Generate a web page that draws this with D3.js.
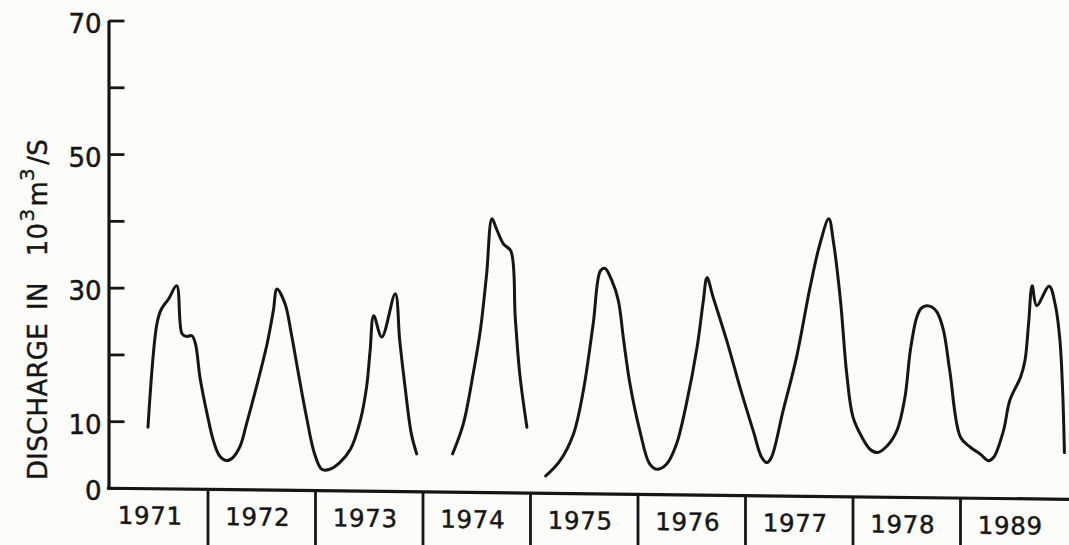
<!DOCTYPE html>
<html>
<head>
<meta charset="utf-8">
<script src="https://cdn.jsdelivr.net/npm/d3@7"></script>
<style>
  html, body { margin: 0; padding: 0; background: #fcfcf8; }
  svg { display: block; }
  text { font-family: "DejaVu Sans", sans-serif; fill: #161616; }
</style>
</head>
<body>
<svg id="chart" width="1069" height="545"></svg>
<script>
// ---- data (months counted from the start of 1971; null = gap in the record) ----
const yearLabels = ["1971", "1972", "1973", "1974", "1975", "1976", "1977", "1978", "1989"];
const yTickValues = [0, 10, 20, 30, 40, 50, 60, 70];
const yTickLabels = ["0", "10", "", "30", "", "50", "", "70"];

const months = [
  5.3, 6.3, 6.8, 7.6, 8.5, 9.1, 9.6, 10.2, 10.6, 11.1, 11.9, 12.6, 13.3, 14.1, 14.8, 15.6, 16.3, 17.4, 18.6, 19.3,
  19.7, 20.6, 21.3, 22.1, 23.0, 23.9, 24.7, 25.6, 26.7, 27.9, 29.0, 29.7, 30.1, 30.5, 31.4, 32.9, 33.4, 34.0, 34.7, 35.3,
  36.5,
  39.3, 40.5, 41.6, 42.4, 43.1, 43.7, 44.2, 45.0, 45.8, 46.3, 46.8, 47.6,
  48.5,
  49.7, 51.3, 52.8, 53.9, 55.0, 55.8, 56.3, 57.1, 57.8, 58.4, 59.1, 60.2, 61.3, 62.1, 63.2, 64.3, 65.4, 66.6, 67.3, 67.7,
  68.4, 69.9, 71.4, 72.9, 73.8, 74.4, 74.9, 76.2, 77.7, 79.2, 80.3, 81.3, 81.8, 82.6, 83.3, 84.0, 85.0, 85.9, 86.7, 87.8,
  88.9, 89.8, 90.4, 91.1, 91.6, 92.2, 92.8, 93.4, 94.1, 94.8, 96.0, 97.1, 98.2, 99.1, 99.7, 100.8, 101.5, 102.7, 103.2, 103.6,
  104.0, 104.5, 105.9, 106.6, 107.1, 107.4, 107.6
];
const discharge = [
  9.1, 24.6, 26.8, 28.3, 30.3, 23.1, 22.7, 22.8, 21.6, 16.6, 11.1, 7.1, 4.8, 4.1, 4.6, 6.3, 9.6, 15.1, 21.6, 26.6,
  29.8, 27.6, 23.1, 17.1, 10.6, 5.1, 2.8, 2.8, 3.8, 5.8, 10.1, 15.1, 20.6, 25.8, 22.6, 29.1, 22.1, 15.1, 8.1, 5.1,
  null,
  5.1, 9.6, 17.1, 23.6, 32.0, 40.3, 38.8, 36.5, 35.5, 25.5, 17.1, 9.1,
  null,
  1.8, 4.1, 8.1, 14.6, 24.6, 32.5, 32.9, 31.0, 28.1, 22.1, 15.6, 8.6, 3.6, 2.8, 3.6, 6.6, 12.6, 21.1, 28.1, 31.5,
  28.5, 22.1, 15.0, 8.4, 4.6, 3.8, 4.6, 11.6, 19.6, 30.0, 36.5, 40.3, 37.0, 28.1, 17.1, 10.6, 7.6, 5.8, 5.3, 6.3,
  8.6, 13.6, 20.6, 25.5, 26.9, 27.3, 27.1, 26.3, 23.6, 17.6, 7.6, 6.1, 5.1, 4.1, 4.6, 8.6, 13.1, 16.6, 19.1, 24.6,
  30.3, 27.3, 30.2, 27.3, 22.1, 14.6, 5.3
];

// ---- layout ----
const W = 1069, H = 545;
const axisX = 108.5;
const x = d3.scaleLinear().domain([0, 108]).range([100.5, 1068]);
const y = d3.scaleLinear().domain([0, 70]).range([488, 20.5]);
const ink = "#161616";

const svg = d3.select("#chart");

// y axis (ticks pointing inward, labels on the left)
const yAxis = d3.axisLeft(y)
  .tickValues(yTickValues)
  .tickFormat((d, i) => yTickLabels[i])
  .tickSize(-16)
  .tickSizeOuter(0)
  .tickPadding(7);

const gy = svg.append("g").attr("transform", `translate(${axisX},0)`).call(yAxis);
gy.select(".domain").attr("stroke", ink).attr("stroke-width", 3.2);
gy.selectAll(".tick line").attr("stroke", ink).attr("stroke-width", 2.8);
gy.selectAll(".tick text")
  .attr("font-size", 26)
  .attr("font-family", "DejaVu Sans, sans-serif")
  .attr("fill", ink)
  .attr("stroke", ink)
  .attr("stroke-width", 0.5)
  .attr("dy", "0.46em");

// y axis title
const title = svg.append("text")
  .attr("transform", "translate(47,480) rotate(-90)")
  .attr("font-size", 26)
  .attr("letter-spacing", 0.3)
  .attr("stroke", ink)
  .attr("stroke-width", 0.4);
title.append("tspan").text("DISCHARGE");
title.append("tspan").attr("dx", 13).text("IN");
title.append("tspan").attr("dx", 26).text("10");
title.append("tspan").attr("font-size", 20).attr("dy", -13).attr("dx", 1).text("3");
title.append("tspan").attr("dy", 13).attr("dx", 2).text("m");
title.append("tspan").attr("font-size", 20).attr("dy", -13).text("3");
title.append("tspan").attr("dy", 13).attr("dx", 3).text("/S");

// x axis (the scanned original is drawn slightly tilted)
const gx = svg.append("g").attr("transform", "translate(0,487) skewY(0.66)");
gx.append("line")
  .attr("x1", axisX - 1.6).attr("x2", W + 2)
  .attr("y1", 0).attr("y2", 0)
  .attr("stroke", ink).attr("stroke-width", 3.2);
gx.selectAll("line.sep")
  .data(d3.range(1, yearLabels.length))
  .join("line")
  .attr("class", "sep")
  .attr("x1", d => x(d * 12)).attr("x2", d => x(d * 12))
  .attr("y1", 0).attr("y2", 62)
  .attr("stroke", ink).attr("stroke-width", 2.8);
gx.selectAll("text.yr")
  .data(yearLabels)
  .join("text")
  .attr("class", "yr")
  .attr("x", (d, i) => x(i * 12 + 6) - 4)
  .attr("y", 35.5)
  .attr("text-anchor", "middle")
  .attr("font-size", 24.5)
  .attr("letter-spacing", 0.6)
  .attr("stroke", ink)
  .attr("stroke-width", 0.45)
  .text(d => d);

// discharge curve
const line = d3.line()
  .defined((d, i) => discharge[i] !== null)
  .x((d, i) => x(months[i]))
  .y((d, i) => y(discharge[i]))
  .curve(d3.curveCatmullRom.alpha(0.5));

svg.append("path")
  .attr("d", line(months))
  .attr("fill", "none")
  .attr("stroke", ink)
  .attr("stroke-width", 3)
  .attr("stroke-linejoin", "round")
  .attr("stroke-linecap", "round");
</script>
</body>
</html>
